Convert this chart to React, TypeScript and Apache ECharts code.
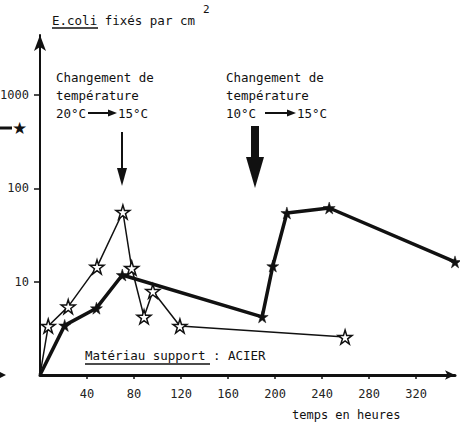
import React, { useEffect, useRef } from "react";
import * as echarts from "echarts";

// Data (hours, E.coli per cm²)
const hoursFilled = [0, 21, 48, 70, 189, 198, 210, 246, 353];
const valuesFilled = [1, 3.4, 5.2, 11.8, 4.2, 14.7, 54.5, 61.6, 16.3];
const hoursOpen = [0, 7, 24, 48.5, 70.5, 78, 88.5, 96, 119, 259.5];
const valuesOpen = [1, 3.35, 5.4, 14.4, 55.8, 14, 4.2, 7.9, 3.35, 2.55];
const xTicks = [40, 80, 120, 160, 200, 240, 280, 320];
const yTicks = [10, 100, 1000];

const STAR =
  "path://M50,0 L61,35 L98,35 L68,57 L79,91 L50,70 L21,91 L32,57 L2,35 L39,35 Z";
const MONO = "DejaVu Sans Mono";
const INK = "#111";

function toData(hours: number[], values: number[]) {
  return hours.map((h, i) =>
    i === 0 ? { value: [h, values[i]], symbol: "none" } : [h, values[i]]
  );
}

export default function App() {
  const ref = useRef<HTMLDivElement>(null);
  useEffect(() => {
    if (!ref.current) return;
    const chart = echarts.init(ref.current, undefined, { renderer: "svg" });
    const txt = (x: number, y: number, text: string, size = 12.5, extra: any = {}) => ({
      type: "text",
      x,
      y,
      style: {
        text,
        fill: INK,
        font: `${size}px "${MONO}"`,
        verticalAlign: "middle",
        ...extra,
      },
    });
    chart.setOption({
      animation: false,
      backgroundColor: "#fff",
      grid: { left: 40, top: 35, right: 5, bottom: 53, containLabel: false, outerBoundsMode: "none" },
      xAxis: {
        type: "value",
        min: 0,
        max: 353,
        interval: 40,
        splitLine: { show: false },
        axisLine: {
          lineStyle: { color: INK, width: 3 },
          symbol: ["none", "arrow"],
          symbolSize: [7, 10],
        },
        axisTick: { customValues: xTicks, length: 4, lineStyle: { color: INK, width: 1.5 } },
        axisLabel: {
          customValues: xTicks,
          color: "#222",
          fontFamily: MONO,
          fontSize: 12,
          margin: 13,
          formatter: (v: number) => String(v),
        },
      },
      yAxis: {
        type: "log",
        logBase: 10,
        min: 1,
        max: 4400,
        splitLine: { show: false },
        axisLine: {
          lineStyle: { color: INK, width: 2 },
          symbol: ["none", "arrow"],
          symbolSize: [9, 16],
        },
        axisTick: { customValues: yTicks, length: 6, lineStyle: { color: INK, width: 1.5 } },
        axisLabel: {
          customValues: yTicks,
          color: "#222",
          fontFamily: MONO,
          fontSize: 12,
          margin: 11,
          formatter: (v: number) => String(Math.round(v)),
        },
      },
      series: [
        {
          type: "line",
          data: toData(hoursOpen, valuesOpen),
          clip: false,
          symbol: STAR,
          symbolSize: 14,
          lineStyle: { color: INK, width: 1.5 },
          itemStyle: { color: "#fff", borderColor: INK, borderWidth: 1.5 },
          z: 2,
        },
        {
          type: "line",
          data: toData(hoursFilled, valuesFilled),
          clip: false,
          symbol: STAR,
          symbolSize: 12,
          lineStyle: { color: INK, width: 3.5 },
          itemStyle: { color: INK, borderColor: INK, borderWidth: 0.5 },
          z: 3,
        },
      ],
      graphic: [
        // title
        txt(52, 20, "E.coli fixés par cm", 12.5),
        { type: "line", shape: { x1: 52, y1: 28, x2: 98, y2: 28 }, style: { stroke: INK, lineWidth: 1.5 } },
        txt(203, 9, "2", 11),
        // first annotation
        txt(56, 77, "Changement de"),
        txt(56, 95, "température"),
        txt(56, 113, "20°C"),
        { type: "line", shape: { x1: 88, y1: 113, x2: 110, y2: 113 }, style: { stroke: INK, lineWidth: 2 } },
        { type: "polygon", shape: { points: [[108, 109.5], [108, 116.5], [117, 113]] }, style: { fill: INK } },
        txt(118, 113, "15°C"),
        { type: "line", shape: { x1: 122, y1: 132, x2: 122, y2: 172 }, style: { stroke: INK, lineWidth: 2 } },
        { type: "polygon", shape: { points: [[117, 168], [127, 168], [122, 186]] }, style: { fill: INK } },
        // second annotation
        txt(226, 77, "Changement de"),
        txt(226, 95, "température"),
        txt(226, 113, "10°C"),
        { type: "line", shape: { x1: 265, y1: 113, x2: 289, y2: 113 }, style: { stroke: INK, lineWidth: 2 } },
        { type: "polygon", shape: { points: [[287, 109.5], [287, 116.5], [296, 113]] }, style: { fill: INK } },
        txt(297, 113, "15°C"),
        { type: "rect", shape: { x: 251, y: 126, width: 8, height: 33 }, style: { fill: INK } },
        { type: "polygon", shape: { points: [[246, 157], [264, 157], [255, 188]] }, style: { fill: INK } },
        // material
        txt(85, 355, "Matériau support : ACIER"),
        { type: "line", shape: { x1: 85, y1: 364, x2: 210, y2: 364 }, style: { stroke: INK, lineWidth: 1.5 } },
        // x axis name
        txt(292, 415, "temps en heures", 12),
        // remnants of the neighbouring figure at the left edge
        { type: "line", shape: { x1: 0, y1: 128, x2: 12, y2: 128 }, style: { stroke: INK, lineWidth: 3 } },
        txt(12, 128, "★", 17, { font: `17px "DejaVu Sans"` }),
        { type: "polygon", shape: { points: [[0, 372], [0, 378], [6, 375]] }, style: { fill: INK } },
      ],
    });
    return () => chart.dispose();
  }, []);
  return (
    <div
      ref={ref}
      style={{ position: "fixed", left: 0, top: 0, width: 460, height: 428 }}
    />
  );
}
